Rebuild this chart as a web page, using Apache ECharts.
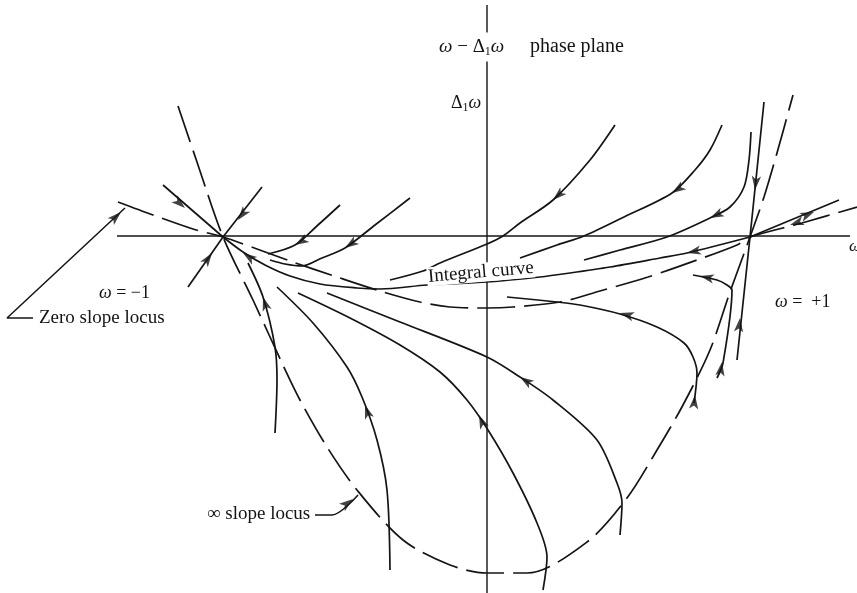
<!DOCTYPE html>
<html>
<head>
<meta charset="utf-8">
<title>phase plane</title>
<script src="https://cdn.jsdelivr.net/npm/echarts@6.0.0/dist/echarts.min.js"></script>
<style>
  html, body { margin: 0; background: #fff; }
  #chart { width: 857px; height: 593px; }
</style>
</head>
<body>
<div id="chart"></div>
<script>
// plane units: 1 unit = 1 px, origin where the axes cross; the two singular points sit at x = -264 and x = +263
const omegaAxis = [[-370,0],[363,0]]
const deltaAxis = [[0,-357],[0,231]]
const infSlopeLocus = [[-309,130],[-290,74],[-264,-1],[-234,-64],[-205,-127],[-187,-164],[-160,-211],[-130,-254],
  [-84,-304],[-37,-329],[0,-337],[40,-337],[100,-306],[140,-262],[170,-214],[196,-169],[223,-114],[243,-56],
  [263,-1],[277,39],[290,83],[306,141]]
const zeroSlopeLocus = [[-369,34],[-334,21],[-294,7],[-264,-1],[-230,-13],[-197,-25],[-150,-41],[-107,-55],
  [-67,-66],[-37,-71],[0,-72],[26,-71],[73,-66],[113,-55],[161,-41],[210,-24],[250,-9],[263,-1],[315,13],[370,29]]
const integralCurve = [[-264,-1],[-244,-16],[-222,-29],[-197,-40],[-167,-48],[-130,-52],[-107,-53],[-60,-49],
  [0,-46],[53,-41],[83,-37],[123,-31],[173,-22],[200,-17],[263,-1]]
const unstableBranch = [[263,-1],[352,36]]
const stableLine = [[277,134],[263,-1],[250,-124]]
const curveA = [[128,111],[103,76],[66,36],[33,13],[16,0],[0,-8],[-47,-27],[-64,-35],[-97,-44]]
const curveB = [[235,111],[223,86],[208,66],[185,43],[137,19],[97,0],[70,-9],[33,-22]]
const curveC = [[264,104],[262,76],[257,49],[243,29],[223,18],[180,-1],[133,-14],[97,-24]]
const rightLoop = [[207,-167],[210,-137],[206,-121],[197,-107],[170,-91],[133,-78],[93,-69],[70,-66],[20,-61]]
const rightHook = [[230,-142],[236,-127],[245,-54],[240,-49],[230,-44],[206,-39]]
const leftUL = [[-324,51],[-264,-1]]
const leftUR = [[-225,49],[-264,-1]]
const leftLL = [[-299,-51],[-264,-1]]
const curve1 = [[-147,31],[-169,11],[-192,-9],[-219,-18]]
const curve2 = [[-77,38],[-112,11],[-142,-12],[-165,-22],[-185,-30],[-202,-28],[-217,-24]]
const curveL1 = [[-239,-27],[-224,-61],[-212,-111],[-210,-144],[-212,-197]]
const curveL2 = [[-210,-51],[-174,-87],[-140,-131],[-125,-161],[-110,-204],[-100,-254],[-97,-334]]
const curveL3 = [[-189,-57],[-137,-82],[-87,-109],[-47,-136],[-20,-164],[1,-194],[26,-237],[50,-287],[60,-321],[56,-354]]
const curveL4 = [[-160,-57],[-87,-86],[0,-121],[33,-141],[66,-164],[110,-204],[130,-247],[135,-267],[133,-299]]
const zeroPointer = [[-454,-82],[-480,-82],[-362,28]]
const infPointer = [[-172,-279],[-155,-279],[-129,-259]]

// arrowheads: [x, y, dx, dy]  (direction of travel)
const arrows = [
  [66,36,-70,-63], [185,43,-71,-47], [223,18,-63,-30],
  [268,46,-14,-135], [253,-82,13,123], [327,24,89,37], [303,11,-37,-12],
  [200,-17,-130,-28], [133,-77,-77,22], [208,-159,3,30],
  [213,-40,-23,5], [235,-126,13,86],
  [-122,-169,-15,45], [-8,-179,-17,40], [33,-141,-70,46], [-224,-61,-25,80],
  [-244,-17,-42,28], [-302,28,60,-52], [-249,16,-39,-50], [-275,-17,35,50],
  [-192,-9,-50,-29], [-142,-12,-55,-37],
  [-366,24,121,113], [-134,-263,26,20]
]

const INK = '#141414'
const SERIF = '"Liberation Serif", "DejaVu Serif", serif'

function curve(name, data, smooth, dashed, width) {
  return {
    name,
    type: 'line',
    data,
    symbol: 'none',
    showSymbol: false,
    smooth,
    clip: false,
    silent: true,
    z: 3,
    lineStyle: { color: INK, width: width || 1.7, type: dashed ? [38, 9] : 'solid' },
  }
}

const series = [
  curve('omega axis', omegaAxis, false, false, 1.4),
  curve('delta axis', deltaAxis, false, false, 1.4),
  curve('infSlope', infSlopeLocus, 0.3, true),
  curve('zeroSlope', zeroSlopeLocus, 0.3, true),
  curve('integral', integralCurve, 0.3),
  curve('unstable', unstableBranch, false),
  curve('stable', stableLine, false),
  curve('A', curveA, 0.3),
  curve('B', curveB, 0.3),
  curve('C', curveC, 0.3),
  curve('loop', rightLoop, 0.3),
  curve('hook', rightHook, 0.3),
  curve('ul', leftUL, false),
  curve('ur', leftUR, false),
  curve('ll', leftLL, false),
  curve('c1', curve1, 0.3),
  curve('c2', curve2, 0.3),
  curve('L1', curveL1, 0.3),
  curve('L2', curveL2, 0.3),
  curve('L3', curveL3, 0.3),
  curve('L4', curveL4, 0.3),
  curve('zp', zeroPointer, false, false, 1.5),
  curve('ip', infPointer, 0.3, false, 1.5),
  {
    name: 'arrows',
    type: 'scatter',
    symbol: 'arrow',
    symbolSize: [7, 14],
    silent: true,
    clip: false,
    z: 4,
    itemStyle: { color: INK },
    data: arrows.map(([x, y, dx, dy]) => ({
      value: [x, y],
      symbolRotate: Math.atan2(dy, dx) * 180 / Math.PI - 90,
    })),
  },
]

function label(x, y, text, size, extra) {
  return {
    type: 'text',
    x, y, z: 50,
    style: Object.assign({
      text,
      fill: INK,
      font: size + 'px ' + SERIF,
      verticalAlign: 'middle',
      rich: {
        i: { fontStyle: 'italic', fontSize: size, fontFamily: SERIF, fill: INK },
        s: { fontSize: Math.round(size * 0.65), fontFamily: SERIF, fill: INK, padding: [9, 0, 0, 0] },
      },
    }, extra || {}),
  }
}

const chart = echarts.init(document.getElementById('chart'))
chart.setOption({
  backgroundColor: '#fff',
  animation: false,
  grid: { left: 0, right: 0, top: 0, bottom: 0 },
  xAxis: { type: 'value', min: -487, max: 370, show: false },
  yAxis: { type: 'value', min: -357, max: 236, show: false },
  series,
  graphic: [
    label(437, 47, '{i|ω} − Δ{s|1}{i|ω}', 19, { backgroundColor: '#fff', padding: [4, 2] }),
    label(530, 47, 'phase plane', 20),
    label(449, 103, 'Δ{s|1}{i|ω}', 18, { backgroundColor: '#fff', padding: [2, 2] }),
    label(99, 293, '{i|ω} = −1', 18),
    label(39, 318, 'Zero slope locus', 19),
    label(775, 302, '{i|ω} =  +1', 18),
    label(207, 514, '∞ slope locus', 19),
    label(849, 247, '{i|ω}', 17),
    Object.assign(label(427, 277, 'Integral curve', 19, {
      backgroundColor: '#fff', padding: [0, 1],
    }), { rotation: 0.085 }),
  ],
})
</script>
</body>
</html>
